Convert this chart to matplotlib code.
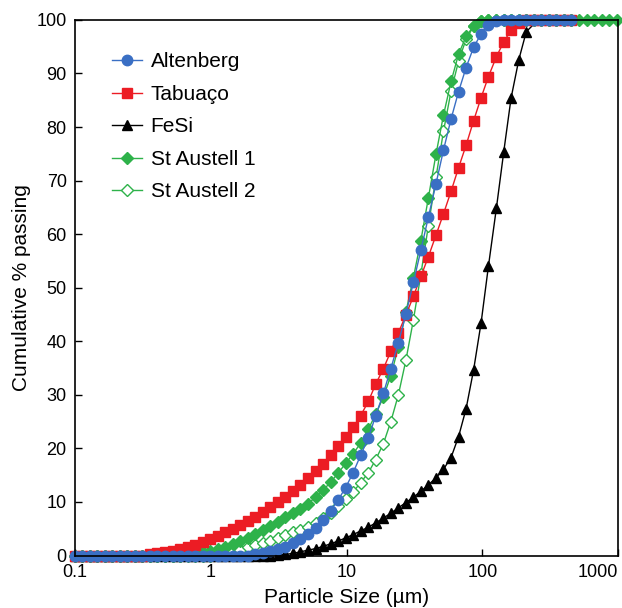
import matplotlib
matplotlib.use('Agg')
import matplotlib.pyplot as plt
from matplotlib.ticker import FixedLocator, FuncFormatter

plt.rcParams['font.family'] = ['Liberation Sans', 'DejaVu Sans']

# size classes (um)
SIZES = [0.0995, 0.113, 0.128, 0.146, 0.166, 0.188, 0.214, 0.243, 0.276, 0.314,
         0.357, 0.405, 0.46, 0.523, 0.594, 0.675, 0.767, 0.872, 0.991, 1.13,
         1.28, 1.45, 1.65, 1.88, 2.13, 2.42, 2.75, 3.12, 3.55, 4.03,
         4.58, 5.21, 5.92, 6.72, 7.64, 8.68, 9.86, 11.2, 12.7, 14.5,
         16.4, 18.7, 21.2, 24.1, 27.4, 31.1, 35.3, 40.1, 45.6, 51.8,
         58.9, 66.9, 76.0, 86.4, 98.1, 111, 127, 144, 163, 186,
         211, 240, 272, 310, 352, 400, 454, 516, 586, 666,
         756, 859, 976]

ALTENBERG = [0] * 24 + [
    0.3, 0.5, 0.8, 1.2, 1.6, 2.3, 3.0, 4.0, 5.2, 6.7,
    8.4, 10.4, 12.7, 15.5, 18.7, 22.0, 26.1, 30.3, 34.9, 39.7,
    45.1, 51.0, 57.0, 63.2, 69.4, 75.7, 81.5, 86.6, 91.1, 94.9,
    97.4, 99.1, 99.7] + [100] * 10

TABUACO = [0] * 10 + [
    0.2, 0.4, 0.6, 0.9, 1.2, 1.6, 2.0, 2.5, 3.0, 3.6,
    4.3, 5.0, 5.7, 6.4, 7.2, 8.1, 9.0, 10.0, 11.0, 12.0,
    13.1, 14.4, 15.7, 17.1, 18.7, 20.4, 22.2, 24.0, 26.1, 28.8,
    32.0, 34.9, 38.1, 41.6, 44.9, 48.4, 52.1, 55.8, 59.8, 63.8,
    68.0, 72.4, 76.6, 81.2, 85.5, 89.4, 93.1, 95.9, 98.1, 99.4,
    99.9] + [100] * 6

FESI = [0] * 27 + [
    0.1, 0.2, 0.4, 0.7, 1.0, 1.3, 1.7, 2.2, 2.7, 3.3,
    3.9, 4.6, 5.3, 6.1, 7.0, 7.9, 8.9, 9.9, 10.9, 12.0,
    13.2, 14.5, 16.1, 18.3, 22.2, 27.4, 34.7, 43.5, 54.0, 64.8,
    75.4, 85.4, 92.6, 97.8, 99.2] + [99.3] * 5
FESI_MARKED = 61  # triangles only drawn up to 211 um

ST_AUSTELL_1 = [0] * 15 + [
    0.2, 0.4, 0.6, 0.9, 1.2, 1.6, 2.1, 2.7, 3.3, 4.0,
    4.7, 5.5, 6.3, 7.1, 7.9, 8.7, 9.7, 10.9, 12.2, 13.7,
    15.4, 17.2, 19.0, 21.0, 23.6, 26.4, 29.6, 33.6, 38.9, 45.5,
    51.9, 58.8, 66.8, 74.9, 82.2, 88.5, 93.6, 96.9, 98.9, 99.8] + [100] * 18

ST_AUSTELL_2 = [0] * 19 + [
    0.2, 0.4, 0.7, 1.1, 1.5, 1.9, 2.4, 2.8, 3.3, 3.8,
    4.3, 4.8, 5.4, 6.1, 7.0, 8.0, 9.2, 10.5, 11.9, 13.6,
    15.5, 17.9, 20.9, 25.0, 30.0, 36.5, 44.0, 52.5, 61.6, 70.6,
    79.2, 86.7, 92.3, 96.4, 98.8, 99.7] + [100] * 12

BLUE = '#3a6fc4'
RED = '#ec1c24'
GREEN = '#2eb24a'

fig = plt.figure(figsize=(6.22, 6.08), dpi=100)
ax = fig.add_axes([0.1206, 0.0863, 0.873, 0.881])

lw = 1.0
h5 = ax.plot(SIZES[:len(ST_AUSTELL_2)], ST_AUSTELL_2, '-D', color=GREEN, mfc='white',
             mec=GREEN, mew=1.0, ms=6.3, lw=lw, clip_on=False, label='St Austell 2')[0]
h4 = ax.plot(SIZES[:len(ST_AUSTELL_1)], ST_AUSTELL_1, '-D', color=GREEN, ms=6.5,
             lw=lw, clip_on=False, label='St Austell 1')[0]
h3 = ax.plot(SIZES[:len(FESI)], FESI, '-^', color='black', ms=7.5, lw=lw,
             markevery=slice(0, FESI_MARKED), clip_on=False, label='FeSi')[0]
h2 = ax.plot(SIZES[:len(TABUACO)], TABUACO, '-s', color=RED, ms=7, lw=lw,
             clip_on=False, label='Tabuaço')[0]
h1 = ax.plot(SIZES[:len(ALTENBERG)], ALTENBERG, '-o', color=BLUE, ms=7.5, lw=lw,
             clip_on=False, label='Altenberg')[0]

ax.set_xscale('log')
ax.set_xlim(0.1, 1000)
ax.set_ylim(0, 100)
ax.xaxis.set_major_locator(FixedLocator([0.1, 1, 10, 100, 1000]))
ax.xaxis.set_minor_locator(FixedLocator([]))
ax.xaxis.set_major_formatter(FuncFormatter(lambda v, p: f'{v:g}'))
ax.set_yticks(range(0, 101, 10))
ax.tick_params(direction='in', length=5, width=1, labelsize=13, pad=6,
               colors='black')
ax.tick_params(axis='x', pad=6)
ax.get_xticklabels()[-1].set_ha('right')
for s in ax.spines.values():
    s.set_linewidth(1.2)

ax.set_xlabel('Particle Size (µm)', fontsize=15, labelpad=5)
ax.set_ylabel('Cumulative % passing', fontsize=15, labelpad=4)

ax.legend(handles=[h1, h2, h3, h4, h5], loc='upper left', frameon=False,
          fontsize=15, bbox_to_anchor=(0.053, 0.955), handlelength=1.45,
          handletextpad=0.4, labelspacing=0.65, borderaxespad=0)

plt.savefig('out.png', dpi=100)
